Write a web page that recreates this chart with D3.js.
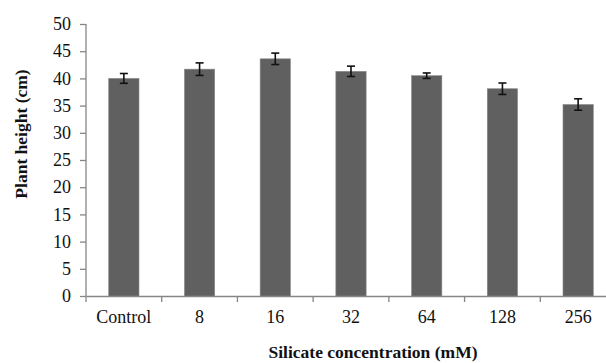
<!DOCTYPE html>
<html>
<head>
<meta charset="utf-8">
<script src="https://cdn.jsdelivr.net/npm/d3@7.9.0/dist/d3.min.js"></script>
<style>
  body { margin: 0; background: #fff; }
  svg { display: block; font-family: "Liberation Serif", "Times New Roman", serif; }
</style>
</head>
<body>
<svg id="chart" width="606" height="363"></svg>
<script>
// data
const categories = ['Control', '8', '16', '32', '64', '128', '256'];
const heights = [40.0, 41.7, 43.6, 41.3, 40.5, 38.1, 35.2];
const errors = [0.9, 1.15, 1.05, 0.95, 0.5, 1.05, 1.05];
const yTicks = [0, 5, 10, 15, 20, 25, 30, 35, 40, 45, 50];

const svg = d3.select('#chart');
const plotLeft = 86, plotRight = 616, plotTop = 24, plotBottom = 296;

let x = d3.scaleBand().domain(categories).range([plotLeft, plotRight]).paddingInner(0.6).paddingOuter(0.3);
let y = d3.scaleLinear().domain([0, 50]).range([plotBottom, plotTop]);

// axes
let yAxis = svg.append('g')
  .attr('transform', `translate(${plotLeft},0)`)
  .call(d3.axisLeft(y).tickValues(yTicks).tickSize(6).tickPadding(9));
let xAxis = svg.append('g')
  .attr('transform', `translate(0,${plotBottom})`)
  .call(d3.axisBottom(x).tickSize(0).tickPadding(14));

[yAxis, xAxis].forEach((ax) => {
  ax.select('.domain').attr('stroke', '#868686').attr('stroke-width', 1.3);
  ax.selectAll('.tick line').attr('stroke', '#868686').attr('stroke-width', 1.3);
  ax.selectAll('.tick text').attr('font-size', 18).attr('fill', '#111').attr('font-family', '"Liberation Serif", serif');
});
yAxis.select('.domain').attr('d', `M0,${plotTop}V${plotBottom}`);

// category boundary ticks on x axis
let step = x.step();
let bounds = d3.range(categories.length + 1).map((i) => plotLeft + i * step);
xAxis.selectAll('.bound')
  .data(bounds)
  .join('line')
  .attr('class', 'bound')
  .attr('x1', (d) => d).attr('x2', (d) => d)
  .attr('y1', 0).attr('y2', 6)
  .attr('stroke', '#868686').attr('stroke-width', 1.3);

// bars
svg.append('g').selectAll('rect')
  .data(heights)
  .join('rect')
  .attr('x', (d, i) => x(categories[i]))
  .attr('width', x.bandwidth())
  .attr('y', (d) => y(d))
  .attr('height', (d) => y(0) - y(d))
  .attr('fill', '#606060')
  .attr('stroke', '#8a8a8a')
  .attr('stroke-width', 0.6);

// error bars
let eb = svg.append('g').attr('stroke', '#111').attr('stroke-width', 1.6);
heights.forEach((h, i) => {
  let cx = x(categories[i]) + x.bandwidth() / 2;
  let hi = y(h + errors[i]), lo = y(h - errors[i]);
  eb.append('line').attr('x1', cx).attr('x2', cx).attr('y1', hi).attr('y2', lo);
  eb.append('line').attr('x1', cx - 4).attr('x2', cx + 4).attr('y1', hi).attr('y2', hi);
  eb.append('line').attr('x1', cx - 4).attr('x2', cx + 4).attr('y1', lo).attr('y2', lo);
});

// axis titles
svg.append('text')
  .attr('transform', 'translate(27,134) rotate(-90)')
  .attr('text-anchor', 'middle')
  .attr('font-size', 17.5).attr('font-weight', 'bold').attr('fill', '#111')
  .text('Plant height (cm)');
svg.append('text')
  .attr('x', 373).attr('y', 358)
  .attr('text-anchor', 'middle')
  .attr('font-size', 17.5).attr('font-weight', 'bold').attr('fill', '#111')
  .text('Silicate concentration (mM)');
</script>
</body>
</html>
